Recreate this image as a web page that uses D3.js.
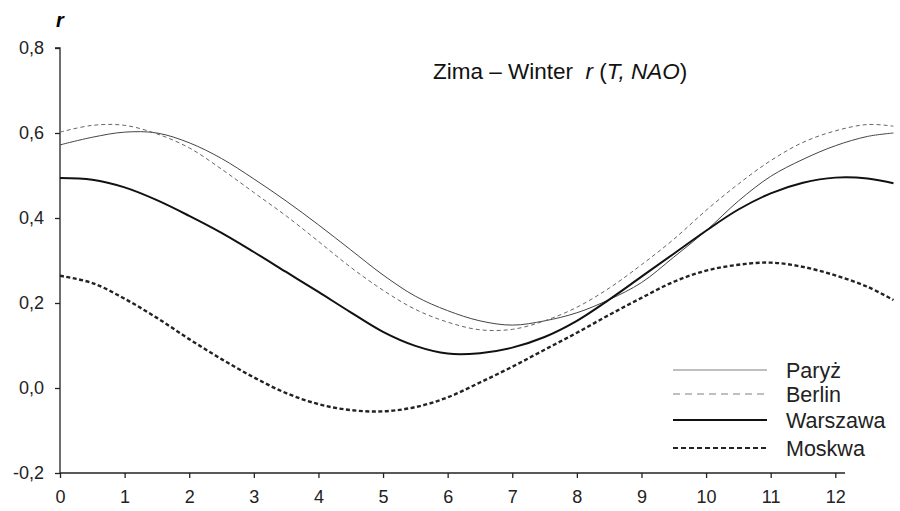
<!DOCTYPE html>
<html><head><meta charset="utf-8">
<script src="https://cdn.jsdelivr.net/npm/d3@7/dist/d3.min.js"></script>
<style>body{margin:0;background:#fff}svg{display:block}text{font-family:"Liberation Sans",Arial,sans-serif}</style>
</head><body><svg id="c" width="900" height="511"></svg>
<script>
const months = [0,0.5,1,1.5,2,2.5,3,3.5,4,4.5,5,5.5,6,6.5,7,7.5,8,8.5,9,9.5,10,10.5,11,11.5,12,12.5,12.9];
const paryz   = [0.572,0.59,0.602,0.6,0.577,0.54,0.492,0.44,0.384,0.325,0.266,0.216,0.182,0.158,0.148,0.158,0.177,0.208,0.248,0.308,0.37,0.44,0.498,0.538,0.57,0.592,0.6];
const berlin  = [0.602,0.618,0.618,0.598,0.565,0.515,0.46,0.405,0.345,0.284,0.23,0.185,0.155,0.137,0.138,0.158,0.19,0.235,0.29,0.35,0.418,0.48,0.535,0.578,0.605,0.62,0.616];
const warszawa= [0.494,0.49,0.472,0.442,0.405,0.365,0.32,0.273,0.226,0.178,0.132,0.099,0.081,0.082,0.095,0.12,0.158,0.208,0.262,0.316,0.37,0.42,0.458,0.483,0.495,0.493,0.482];
const moskwa  = [0.264,0.247,0.21,0.165,0.115,0.068,0.025,-0.012,-0.038,-0.052,-0.055,-0.045,-0.022,0.013,0.05,0.09,0.13,0.172,0.212,0.25,0.276,0.29,0.295,0.285,0.265,0.238,0.207];
const seriesNames = ["Paryż","Berlin","Warszawa","Moskwa"];
const xTicks = [0,1,2,3,4,5,6,7,8,9,10,11,12];
const yTicks = [-0.2,0,0.2,0.4,0.6,0.8];

const svg = d3.select("#c");
const x = d3.scaleLinear().domain([0,12.15]).range([60,845]);
const y = d3.scaleLinear().domain([-0.2,0.8]).range([473,48]);
const fmt = d => d3.format(".1f")(d).replace(".",",").replace("−","-");

const ya = svg.append("g").attr("transform","translate(60,0)")
  .call(d3.axisLeft(y).tickValues(yTicks).tickSize(5).tickPadding(11).tickFormat(fmt));
const xa = svg.append("g").attr("transform","translate(0,473)")
  .call(d3.axisBottom(x).tickValues(xTicks).tickSize(5).tickPadding(12).tickFormat(d=>d));
[ya,xa].forEach(g=>{
  g.select(".domain").attr("stroke","#222").attr("stroke-width",1.3);
  g.selectAll(".tick line").attr("stroke","#222").attr("stroke-width",1.3);
  g.selectAll("text").attr("font-size",18).attr("fill","#222").attr("font-family","Liberation Sans, Arial, sans-serif");
});
ya.select(".domain").attr("d","M-5,48H0V473");
xa.select(".domain").attr("d","M60,0H845");

const styles = [
  {stroke:"#444", w:1.0, dash:null, legend:"#aaa"},
  {stroke:"#666", w:1.0, dash:"4,3", legend:"#aaa"},
  {stroke:"#111", w:2.0, dash:null, legend:"#111"},
  {stroke:"#222", w:2.4, dash:"4,2.5", legend:"#222"}
];
const data = [paryz,berlin,warszawa,moskwa];
const line = d3.line().x((d,i)=>x(months[i])).y(d=>y(d)).curve(d3.curveCatmullRom.alpha(0.5));
data.forEach((s,k)=>{
  svg.append("path").datum(s).attr("d",line).attr("fill","none")
    .attr("stroke",styles[k].stroke).attr("stroke-width",styles[k].w)
    .attr("stroke-dasharray",styles[k].dash);
});

const ly = [370,394,420,448];
seriesNames.forEach((n,k)=>{
  svg.append("line").attr("x1",673).attr("x2",767).attr("y1",ly[k]).attr("y2",ly[k])
    .attr("stroke",styles[k].legend).attr("stroke-width",k>=2?2:1.3)
    .attr("stroke-dasharray",k==1?"7,5":(k==3?"5,3":null));
  svg.append("text").attr("x",786).attr("y",ly[k]+7.5).attr("font-size",21.5).attr("fill","#222").text(n);
});

svg.append("text").attr("x",56).attr("y",27).attr("font-size",20).attr("font-weight","bold")
  .attr("font-style","italic").text("r");

const t = svg.append("text").attr("x",433).attr("y",79).attr("font-size",22.5).attr("fill","#111")
  .style("white-space","pre");
t.append("tspan").text("Zima – Winter  ");
t.append("tspan").attr("font-style","italic").text("r");
t.append("tspan").text(" (");
t.append("tspan").attr("font-style","italic").text("T, NAO");
t.append("tspan").text(")");
</script></body></html>
